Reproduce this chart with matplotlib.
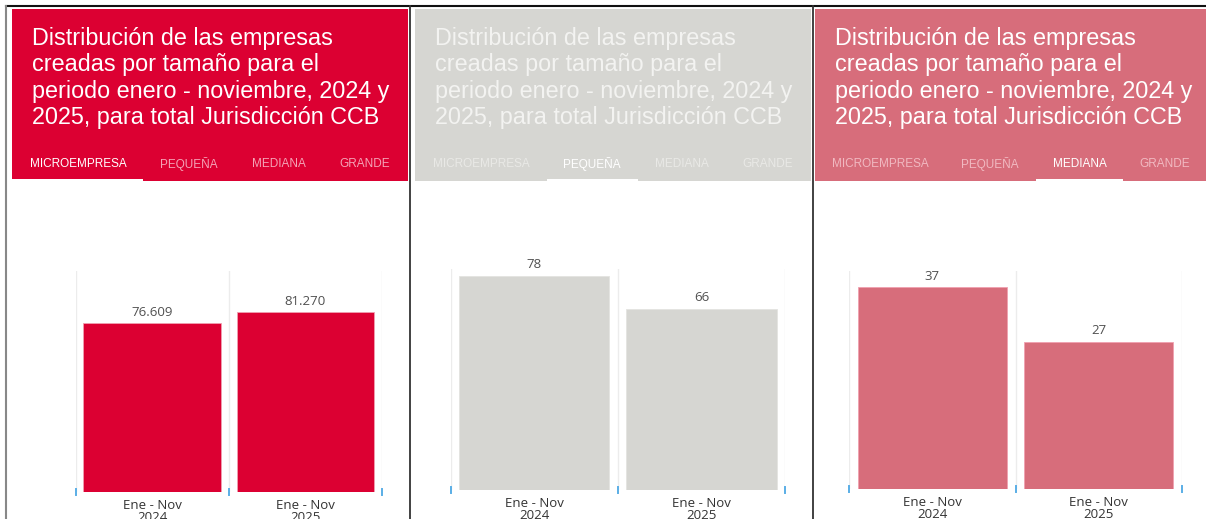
import matplotlib.pyplot as plt
from matplotlib.patches import Rectangle

# datos
periodos = ["Ene - Nov\n2024", "Ene - Nov\n2025"]
microempresa = [76609, 81270]
pequena = [78, 66]
mediana = [37, 27]
pestanas = ["MICROEMPRESA", "PEQUEÑA", "MEDIANA", "GRANDE"]
titulo = ("Distribución de las empresas\ncreadas por tamaño para el\n"
          "periodo enero - noviembre, 2024 y\n2025, para total Jurisdicción CCB")

W, H = 1206, 519


def rect(x0, y0, x1, y1):
    return [x0 / W, 1 - y1 / H, (x1 - x0) / W, (y1 - y0) / H]


def fmt(v):
    return f"{v:,}".replace(",", ".")


def main():
    fig = plt.figure(figsize=(W / 100, H / 100), dpi=100)
    fig.patch.set_facecolor("white")

    # capa de fondo en pixeles
    bg = fig.add_axes([0, 0, 1, 1])
    bg.set_xlim(0, W)
    bg.set_ylim(H, 0)
    bg.axis("off")

    paneles = [
        dict(valores=microempresa, color="#dc0032", x0=12, x1=408, ymax=100000,
             txt="white", tab_off="#f4a3b6", sel=0, sel_span=(12, 143),
             ax=(75.7, 271, 382, 492), tabx=[78, 189, 279, 365]),
        dict(valores=pequena, color="#d6d6d2", x0=415, x1=811, ymax=80.4,
             txt="#f3f3f1", tab_off="#e9e9e6", sel=1, sel_span=(547, 638),
             ax=(450.7, 269, 785, 490), tabx=[481, 592, 682, 768]),
        dict(valores=mediana, color="#d76d7b", x0=815, x1=1206, ymax=40,
             txt="white", tab_off="#f1b9c1", sel=2, sel_span=(1036, 1123),
             ax=(849.3, 270.7, 1181.7, 489), tabx=[880, 990, 1080, 1165]),
    ]

    for p in paneles:
        # encabezado
        bg.add_patch(Rectangle((p["x0"], 9), p["x1"] - p["x0"], 172,
                               facecolor=p["color"], edgecolor="none"))
        bg.text(p["x0"] + 20, 26.5, titulo, color=p["txt"], fontsize=16.8,
                family="Liberation Sans", va="top", ha="left", linespacing=1.2)
        for i, t in enumerate(pestanas):
            c = "white" if i == p["sel"] else p["tab_off"]
            bg.text(p["tabx"][i], 164, t, color=c, fontsize=8.5,
                    family="Liberation Sans", ha="center", va="center")
        s0, s1 = p["sel_span"]
        bg.add_patch(Rectangle((s0, 179), s1 - s0, 3, facecolor="white",
                               edgecolor="none"))

        # grafico de barras
        ax = fig.add_axes(rect(*p["ax"]))
        x = range(len(periodos))
        bars = ax.bar(x, p["valores"], width=0.9, color=p["color"],
                      edgecolor="#f0a0b0" if p["color"] != "#d6d6d2" else "#e4e4e0",
                      linewidth=0.6, zorder=3)
        ax.set_xlim(-0.5, 1.5)
        ax.set_ylim(0, p["ymax"])
        for b, v in zip(bars, p["valores"]):
            ax.annotate(fmt(v), (b.get_x() + b.get_width() / 2, b.get_height()),
                        xytext=(0, 3), textcoords="offset points", ha="center",
                        va="bottom", fontsize=9.5, color="#505050",
                        family="Open Sans")
        for sx in (-0.5, 0.5, 1.5):
            ax.axvline(sx, color="#ececec", linewidth=1, zorder=1)
            ax.plot([sx, sx], [-0.015, 0.012], color="#5aaee6", linewidth=1.4,
                    transform=ax.get_xaxis_transform(), clip_on=False)
        ax.set_xticks(list(x))
        ax.set_xticklabels(periodos, fontsize=9.5, color="#333333",
                           family="Open Sans", linespacing=0.95)
        ax.tick_params(axis="x", length=0, pad=5)
        ax.set_yticks([])
        for sp in ax.spines.values():
            sp.set_visible(False)
        ax.patch.set_alpha(0)

    # bordes del contenedor
    bg.plot([6, W], [6, 6], color="#111111", linewidth=1.5)
    bg.plot([6, 6], [6, H], color="#888888", linewidth=1.5)
    bg.plot([410, 410], [6, H], color="#333333", linewidth=1.3)
    bg.plot([813, 813], [6, H], color="#333333", linewidth=1.3)

    plt.savefig("out.png", dpi=100)


if __name__ == "__main__":
    main()
